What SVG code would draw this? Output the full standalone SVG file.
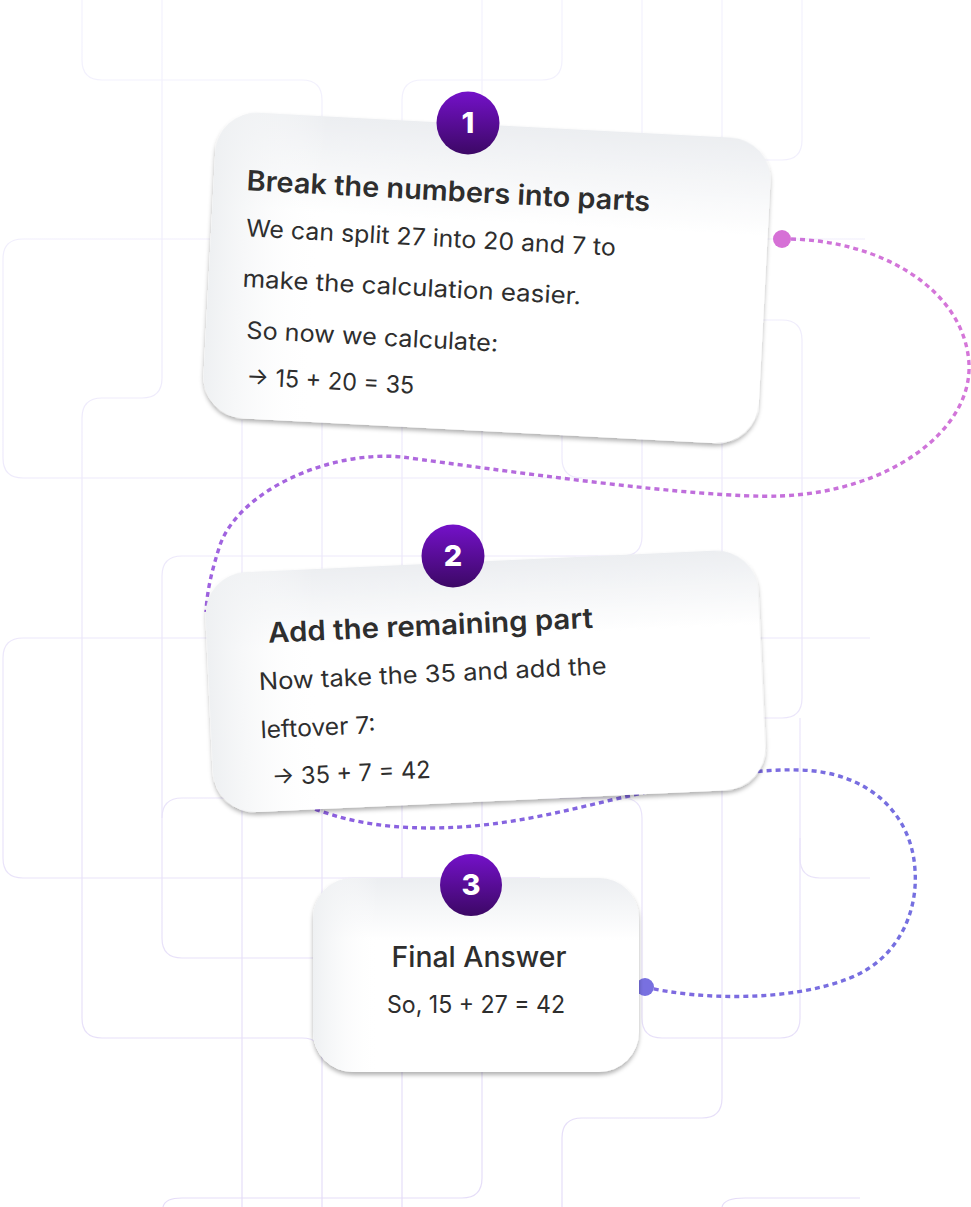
<svg xmlns="http://www.w3.org/2000/svg" width="971" height="1207" viewBox="0 0 971 1207">
  <defs>
    <linearGradient id="bgLine" gradientUnits="userSpaceOnUse" x1="0" y1="0" x2="0" y2="1207">
      <stop offset="0" stop-color="#f3f2fd"/>
      <stop offset="1" stop-color="#e5ddf8"/>
    </linearGradient>
    <linearGradient id="badge" x1="0" y1="0" x2="0" y2="1">
      <stop offset="0" stop-color="#7411c9"/>
      <stop offset="1" stop-color="#3c0865"/>
    </linearGradient>
    <linearGradient id="shadeV" x1="0" y1="0" x2="0" y2="1">
      <stop offset="0" stop-color="#eceef1"/>
      <stop offset="0.32" stop-color="#ffffff"/>
      <stop offset="1" stop-color="#ffffff"/>
    </linearGradient>
    <linearGradient id="shadeH" x1="0" y1="0" x2="1" y2="0">
      <stop offset="0" stop-color="#eef0f2" stop-opacity="1"/>
      <stop offset="0.2" stop-color="#ffffff" stop-opacity="0"/>
    </linearGradient>
    <linearGradient id="pinkLine" gradientUnits="userSpaceOnUse" x1="970" y1="240" x2="200" y2="600">
      <stop offset="0" stop-color="#d877d8"/>
      <stop offset="1" stop-color="#9d62e0"/>
    </linearGradient>
    <linearGradient id="blueLine" gradientUnits="userSpaceOnUse" x1="920" y1="900" x2="310" y2="810">
      <stop offset="0" stop-color="#7570e0"/>
      <stop offset="1" stop-color="#8e5fe0"/>
    </linearGradient>
    <filter id="shadow" x="-10%" y="-10%" width="120%" height="130%">
      <feDropShadow dx="0" dy="3" stdDeviation="2.2" flood-color="#000" flood-opacity="0.3"/>
    </filter>
  </defs>
  <style>
    .bg { fill: none; stroke: url(#bgLine); stroke-width: 1.2; }
    .conn { fill: none; stroke-width: 3.4; stroke-dasharray: 5 4; }
    .card { filter: url(#shadow); fill: url(#shadeV); }
    .cardH { fill: url(#shadeH); }
    .title { font-family: Inter, "Noto Sans", sans-serif; font-weight: 600; font-size: 28px; fill: #2e2e2e; }
    .body { font-family: Inter, "Noto Sans", sans-serif; font-weight: 400; font-size: 24px; fill: #2e2e2e; }
    .num { font-family: Inter, "Noto Sans", sans-serif; font-weight: 800; font-size: 29px; fill: #ffffff; text-anchor: middle; }
  </style>

  <rect width="971" height="1207" fill="#ffffff"/>

  <g id="background">
    <path class="bg" d="M82,0 V60 Q82,80 102,80 H302 Q322,80 322,100 V1207"/>
    <path class="bg" d="M162,0 V378 Q162,398 142,398 H102 Q82,398 82,418 V1018 Q82,1038 102,1038 H302 Q322,1038 322,1058"/>
    <path class="bg" d="M402,1207 V100 Q402,80 422,80 H542 Q562,80 562,60 V0"/>
    <path class="bg" d="M482,0 V1178 Q482,1198 462,1198 H182 Q165,1198 163,1207"/>
    <path class="bg" d="M642,0 V536 Q642,556 622,556 H182 Q162,556 162,576 V938 Q162,958 182,958 H320"/>
    <path class="bg" d="M162,818 Q162,798 182,798 H622 Q642,798 642,818 V1018 Q642,1038 662,1038 H780 Q800,1038 800,1018 V718"/>
    <path class="bg" d="M722,0 V1098 Q722,1118 702,1118 H582 Q562,1118 562,1138 V1207"/>
    <path class="bg" d="M802,0 V140 Q802,160 782,160 H760"/>
    <path class="bg" d="M760,320 H782 Q802,320 802,340 V698 Q802,718 782,718 H760"/>
    <path class="bg" d="M210,239 H23 Q3,239 3,259 V458 Q3,478 23,478 H870"/>
    <path class="bg" d="M765,239 H865"/>
    <path class="bg" d="M562,430 V458 Q562,478 582,478"/>
    <path class="bg" d="M220,638 H23 Q3,638 3,658 V858 Q3,878 23,878 H540"/>
    <path class="bg" d="M760,638 H870"/>
    <path class="bg" d="M800,838 V858 Q800,878 820,878 H870"/>
    <path class="bg" d="M242,420 V1207"/>
    <path class="bg" d="M722,1207 Q724,1198 745,1198 H860"/>
  </g>

  <g id="connectors">
    <path class="conn" stroke="url(#pinkLine)" d="M782,239 C880,238 965,290 969,364 C972,430 890,492 780,496 C700,499 500,470 402,457 C330,450 240,490 220,545 C212,570 207,590 206,612"/>
    <circle cx="782" cy="239" r="9" fill="#d670d6"/>
    <path class="conn" stroke="url(#blueLine)" d="M645,987 C700,1000 790,1002 850,978 C900,958 918,910 915,870 C912,815 870,772 800,770 C740,768 680,785 620,798 C560,812 500,828 430,828 C380,828 340,820 305,805"/>
    <circle cx="645" cy="987" r="9" fill="#7870e0"/>
  </g>

  <g id="step1">
    <g transform="translate(487,278) rotate(3)">
      <rect class="card" x="-278" y="-153" width="556" height="306" rx="42"/>
      <rect class="cardH" x="-278" y="-153" width="556" height="306" rx="42"/>
      <text class="title" x="-245" y="-75" textLength="404" lengthAdjust="spacingAndGlyphs">Break the numbers into parts</text>
      <text class="body" x="-243" y="-29" textLength="370" lengthAdjust="spacingAndGlyphs">We can split 27 into 20 and 7 to</text>
      <text class="body" x="-244" y="21.5" textLength="339" lengthAdjust="spacingAndGlyphs">make the calculation easier.</text>
      <text class="body" x="-237.5" y="73" textLength="252" lengthAdjust="spacingAndGlyphs">So now we calculate:</text>
      <text class="body" x="-235" y="119.5" textLength="168" lengthAdjust="spacingAndGlyphs">→ 15 + 20 = 35</text>
    </g>
    <circle cx="468" cy="123" r="31.5" fill="url(#badge)"/>
    <text class="num" x="468" y="133">1</text>
  </g>

  <g id="step2">
    <g transform="translate(485.6,681.3) rotate(-2.64)">
      <rect class="card" x="-276.5" y="-120" width="553" height="240" rx="42"/>
      <rect class="cardH" x="-276.5" y="-120" width="553" height="240" rx="42"/>
      <text class="title" x="-215" y="-48.6" textLength="325" lengthAdjust="spacingAndGlyphs">Add the remaining part</text>
      <text class="body" x="-226.6" y="-1.7" textLength="348" lengthAdjust="spacingAndGlyphs">Now take the 35 and add the</text>
      <text class="body" x="-227" y="46.6" textLength="115" lengthAdjust="spacingAndGlyphs">leftover 7:</text>
      <text class="body" x="-218" y="94" textLength="159" lengthAdjust="spacingAndGlyphs">→ 35 + 7 = 42</text>
    </g>
    <circle cx="453" cy="556" r="31.5" fill="url(#badge)"/>
    <text class="num" x="453" y="566">2</text>
  </g>

  <g id="step3">
    <rect class="card" x="313" y="878" width="326" height="194" rx="40"/>
    <rect class="cardH" x="313" y="878" width="326" height="194" rx="40"/>
    <text class="title" x="479" y="967" text-anchor="middle" style="font-weight:500" textLength="175" lengthAdjust="spacingAndGlyphs">Final Answer</text>
    <text class="body" x="476" y="1013" text-anchor="middle" textLength="178" lengthAdjust="spacingAndGlyphs">So, 15 + 27 = 42</text>
    <circle cx="471" cy="885" r="31" fill="url(#badge)"/>
    <text class="num" x="471" y="895">3</text>
  </g>
</svg>
